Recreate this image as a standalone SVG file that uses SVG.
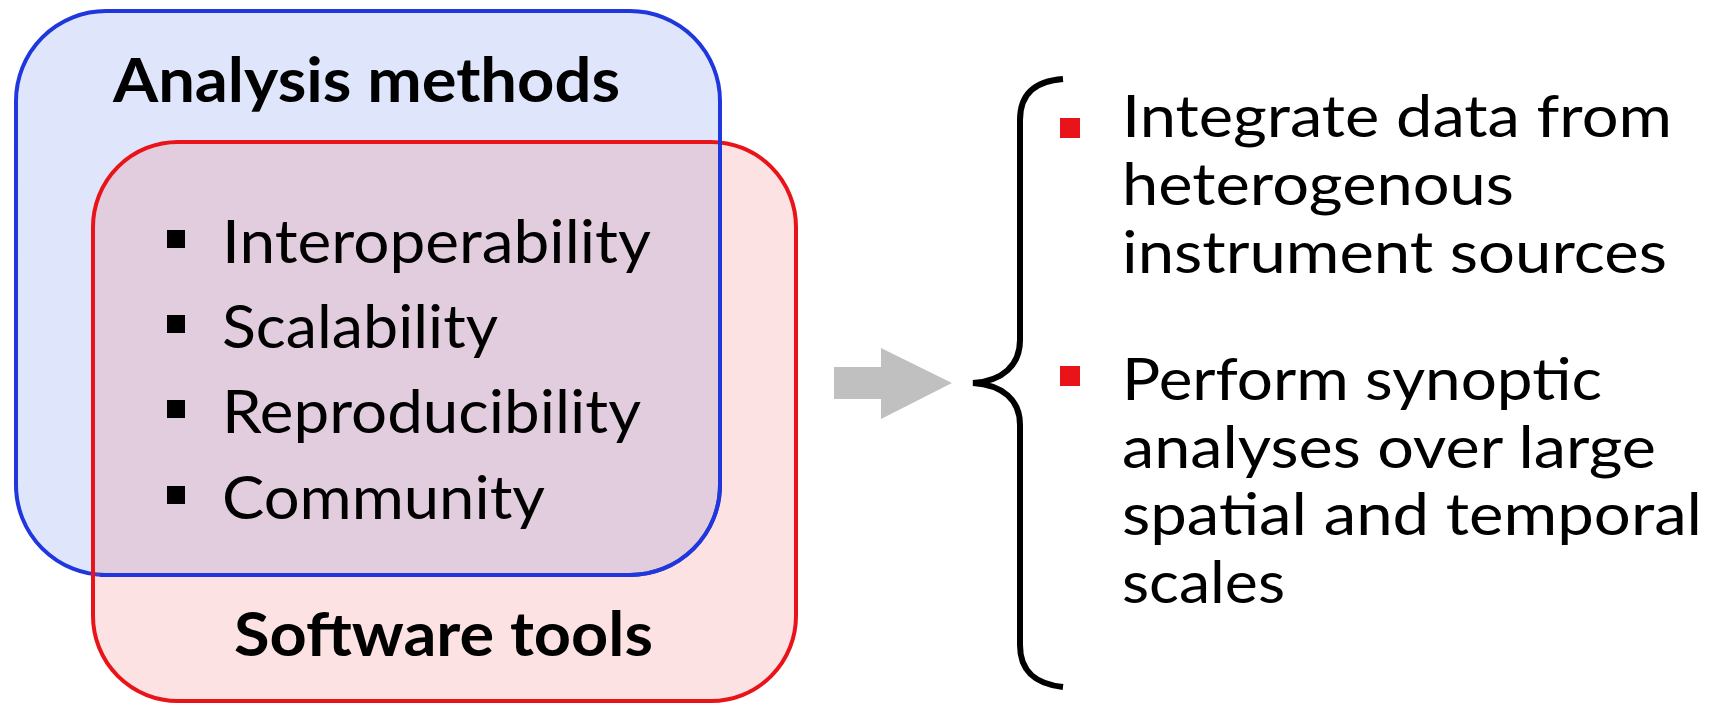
<svg xmlns="http://www.w3.org/2000/svg" width="1716" height="706" viewBox="0 0 1716 706">
<style>
.t{font-family:Lato,"Liberation Sans",sans-serif;fill:#000}
.h{font-weight:bold;font-size:62px}
.i{font-size:60px}
.r{font-size:59px}
.blue{fill:none;stroke:#1f37dc;stroke-width:4}
</style>
<rect width="1716" height="706" fill="#fff"/>
<g id="analysis-methods">
<rect x="16" y="11" width="704" height="564" rx="90" ry="90" fill="#dfe6fb" stroke="#1f37dc" stroke-width="4"/>
<text class="t h" x="113" y="102" textLength="507" lengthAdjust="spacingAndGlyphs">Analysis methods</text>
</g>
<g id="software-tools">
<rect x="93" y="142" width="703" height="559" rx="85" ry="85" fill="rgb(239,100,100)" fill-opacity="0.19" stroke="#e8141a" stroke-width="4"/>
<text class="t h" x="234" y="656" textLength="419" lengthAdjust="spacingAndGlyphs">Software tools</text>
</g>
<path class="blue" d="M 100 575 H 630 A 90 90 0 0 0 720 485 V 138"/>
<g id="features">
<rect x="167" y="230" width="18" height="18"/>
<text class="t i" x="222" y="263" textLength="429" lengthAdjust="spacingAndGlyphs">Interoperability</text>
<rect x="167" y="315" width="18" height="18"/>
<text class="t i" x="222" y="348" textLength="276" lengthAdjust="spacingAndGlyphs">Scalability</text>
<rect x="167" y="400" width="18" height="18"/>
<text class="t i" x="222" y="433" textLength="419" lengthAdjust="spacingAndGlyphs">Reproducibility</text>
<rect x="167" y="486" width="18" height="18"/>
<text class="t i" x="222" y="519" textLength="323" lengthAdjust="spacingAndGlyphs">Community</text>
</g>
<g id="connectors">
<path d="M 834 367 H 881 V 348 L 952 383 L 881 419 V 399 H 834 Z" fill="#c0c0c0"/>
</g>
<g id="brace">
<path d="M 1063 79 C 1037 81 1020 92 1020 120 V 340 C 1020 365 1003 381 973 383 C 1003 385 1020 400 1020 425 V 645 C 1020 673 1037 684 1063 687" fill="none" stroke="#000" stroke-width="6"/>
</g>
<g id="goals">
<rect x="1060" y="118" width="20" height="20" fill="#e8141a"/>
<text class="t r" x="1122" y="137" textLength="550" lengthAdjust="spacingAndGlyphs">Integrate data from</text>
<text class="t r" x="1122" y="205" textLength="392" lengthAdjust="spacingAndGlyphs">heterogenous</text>
<text class="t r" x="1122" y="273" textLength="545" lengthAdjust="spacingAndGlyphs">instrument sources</text>
<rect x="1060" y="366" width="20" height="20" fill="#e8141a"/>
<text class="t r" x="1122" y="400" textLength="480" lengthAdjust="spacingAndGlyphs">Perform synoptic</text>
<text class="t r" x="1122" y="468" textLength="534" lengthAdjust="spacingAndGlyphs">analyses over large</text>
<text class="t r" x="1122" y="535" textLength="580" lengthAdjust="spacingAndGlyphs">spatial and temporal</text>
<text class="t r" x="1122" y="603" textLength="163" lengthAdjust="spacingAndGlyphs">scales</text>
</g>
</svg>
